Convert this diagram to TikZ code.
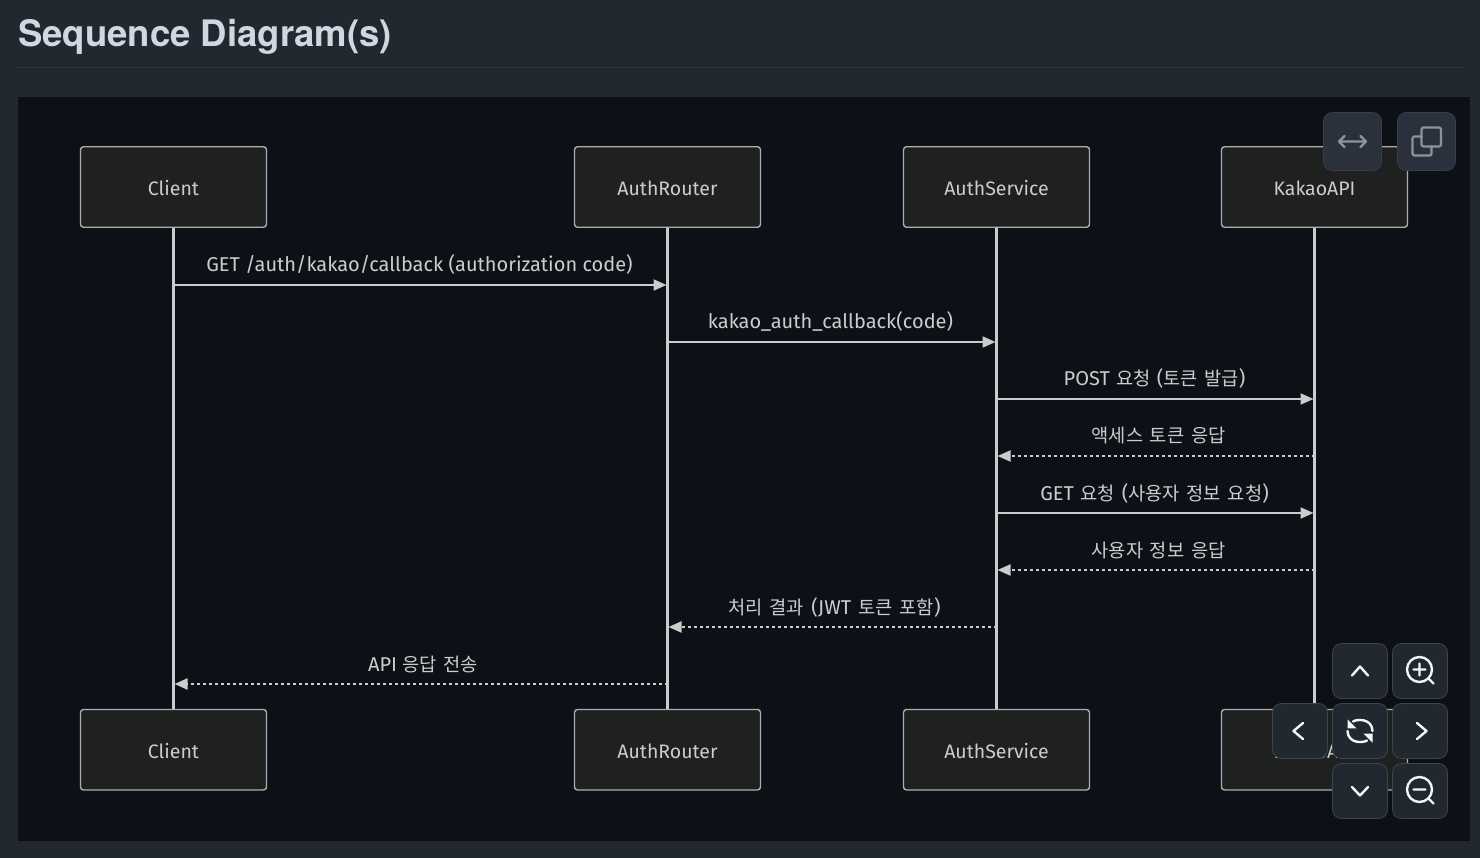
\documentclass[tikz,border=0pt]{standalone}
\usepackage{fontspec}
\setmainfont{Fira Sans}
\newfontfamily\krfont[WordSpace=1.6]{Noto Sans CJK KR}
\newfontfamily\titlefont{TeX Gyre Heros}
\newcommand{\kr}[1]{{\krfont\fontsize{18.7}{22}\selectfont #1}}
\usetikzlibrary{arrows.meta}
\definecolor{pagebg}{HTML}{212830}
\definecolor{panelbg}{HTML}{0D1117}
\definecolor{rulecol}{HTML}{30363D}
\definecolor{titlecol}{HTML}{D1D7E0}
\definecolor{boxfill}{HTML}{1F2020}
\definecolor{linecol}{HTML}{CCCCCC}
\definecolor{btnlight}{HTML}{2A313C}
\definecolor{btnedge}{HTML}{3D444D}
\definecolor{iconmuted}{HTML}{8B949E}
\definecolor{iconbright}{HTML}{F0F6FC}
\tikzset{
  x=1pt,y=-1pt,
  actor/.style={draw=linecol!85!black,fill=boxfill,line width=1.4pt,rounded corners=3pt,
    minimum width=186pt,minimum height=80.5pt,inner sep=0pt,text=linecol,
    text height=17pt,text depth=0pt,
    font=\fontsize{19.5}{24}\selectfont},
  lifeline/.style={draw=linecol,line width=2.2pt},
  solidmsg/.style={draw=linecol,line width=2.1pt,shorten >=1pt,-{Triangle[length=13pt,width=11pt]}},
  dashmsg/.style={draw=linecol,line width=1.9pt,shorten >=1pt,dash pattern=on 3pt off 3pt,
    -{Triangle[length=13pt,width=11pt,sep=0pt]}},
  msglabel/.style={anchor=base,inner sep=0pt,yshift=13.3pt,text=linecol,font=\fontsize{20}{24}\selectfont},
  lowlabel/.style={msglabel,yshift=-0.8pt},
  btntop/.style={draw=btnedge!70!btnlight,fill=btnlight,line width=0.8pt,rounded corners=9pt,
    minimum size=58pt,inner sep=0pt},
  btnnav/.style={draw=btnedge,fill=pagebg,line width=0.8pt,rounded corners=9pt,
    minimum size=55pt,inner sep=0pt},
  iconm/.style={draw=iconmuted,line width=2.2pt,line cap=round,line join=round},
  iconb/.style={draw=iconbright,line width=2.4pt,line cap=round,line join=round},
}
\begin{document}
\begin{tikzpicture}
\useasboundingbox (0,0) rectangle (1480,858);
\fill[pagebg] (0,0) rectangle (1480,858);
\fill[panelbg] (18,97) rectangle (1470,841);
\draw[rulecol,line width=1pt] (18,67.5) -- (1462,67.5);
\node[anchor=base west,inner sep=0pt,text=titlecol,font=\titlefont\bfseries\fontsize{36.5}{40}\selectfont] (title) at (18,47) {Sequence Diagram(s)};

% actors
\node[actor] (ch) at (173.5,187) {Client};
\node[actor] (rh) at (667.5,187) {AuthRouter};
\node[actor] (sh) at (996.5,187) {AuthService};
\node[actor] (kh) at (1314.5,187) {KakaoAPI};
\node[actor] (cf) at (173.5,749.75) {Client};
\node[actor] (rf) at (667.5,749.75) {AuthRouter};
\node[actor] (sf) at (996.5,749.75) {AuthService};
\node[actor] (kf) at (1314.5,749.75) {KakaoAPI};

% lifelines
\draw[lifeline] (ch.south) -- (cf.north);
\draw[lifeline] (rh.south) -- (rf.north);
\draw[lifeline] (sh.south) -- (sf.north);
\draw[lifeline] (kh.south) -- (kf.north);

% messages
\draw[solidmsg] (ch.south |- 0,285) -- node[msglabel,midway,xshift=-1pt] (m1) {GET /auth/kakao/callback (authorization code)} (rh.south |- 0,285);
\draw[solidmsg] (rh.south |- 0,342) -- node[msglabel,midway,xshift=-1.5pt] (m2) {kakao\_auth\_callback(code)} (sh.south |- 0,342);
\draw[solidmsg] (sh.south |- 0,399) -- node[msglabel,midway,xshift=-1pt] (m3) {POST\hspace{1pt} \kr{요청}\hspace{1pt} (\kr{토큰 발급})} (kh.south |- 0,399);
\draw[dashmsg] (kh.south |- 0,456) -- node[msglabel,midway,xshift=3pt] (m4) {\kr{액세스 토큰 응답}} (sh.south |- 0,456);
\draw[solidmsg] (sh.south |- 0,513) -- node[lowlabel,midway,xshift=-1pt] (m5) {GET\hspace{1.5pt} \kr{요청}\hspace{1.5pt} (\kr{사용자 정보 요청})} (kh.south |- 0,513);
\draw[dashmsg] (kh.south |- 0,570) -- node[lowlabel,midway,xshift=3pt] (m6) {\kr{사용자 정보 응답}} (sh.south |- 0,570);
\draw[dashmsg] (sh.south |- 0,627) -- node[lowlabel,midway,xshift=2.5pt] (m7) {\kr{처리 결과}\hspace{2pt} (JWT\hspace{2pt} \kr{토큰 포함})} (rh.south |- 0,627);
\draw[dashmsg] (rh.south |- 0,684) -- node[lowlabel,midway,xshift=2.5pt] (m8) {API \kr{응답 전송}} (ch.south |- 0,684);

% top buttons
\node[btntop] (bwide) at (1352.5,141.5) {};
\node[btntop] (bcopy) at (1426.5,141.5) {};
\begin{scope}[shift={(bwide.center)}]
  \draw[iconm] (-13.5,0) -- (13.5,0) (-8,-5.5) -- (-13.5,0) -- (-8,5.5) (8,-5.5) -- (13.5,0) -- (8,5.5);
\end{scope}
\begin{scope}[shift={(bcopy.center)}]
  \draw[iconm,rounded corners=2pt] (-5,-14) rectangle (14.5,5);
  \draw[iconm,rounded corners=2pt] (-5,-5) -- (-14,-5) -- (-14,14) -- (5,14) -- (5,5);
\end{scope}

% navigation buttons
\node[btnnav] (bup) at (1360,671) {};
\node[btnnav] (bin) at (1420,671) {};
\node[btnnav] (bleft) at (1300,731) {};
\node[btnnav] (bre) at (1360,731) {};
\node[btnnav] (bright) at (1420,731) {};
\node[btnnav] (bdown) at (1360,791) {};
\node[btnnav] (bout) at (1420,791) {};
\draw[iconb] ([shift={(-8,4.5)}]bup.center) -- ([shift={(0,-4.5)}]bup.center) -- ([shift={(8,4.5)}]bup.center);
\draw[iconb] ([shift={(-8,-4)}]bdown.center) -- ([shift={(0,4.5)}]bdown.center) -- ([shift={(8,-4)}]bdown.center);
\draw[iconb] ([shift={(3,-8)}]bleft.center) -- ([shift={(-6.5,0)}]bleft.center) -- ([shift={(3,8)}]bleft.center);
\draw[iconb] ([shift={(-3,-8)}]bright.center) -- ([shift={(6.5,0)}]bright.center) -- ([shift={(-3,8)}]bright.center);
\begin{scope}[shift={(bin.center)}]
  \draw[iconb] (-0.5,-1.5) circle[radius=12.5pt];
  \draw[iconb] (8.5,7.5) -- (13.5,12.5) (-6.5,-1.5) -- (5.5,-1.5) (-0.5,-7.5) -- (-0.5,4.5);
\end{scope}
\begin{scope}[shift={(bout.center)}]
  \draw[iconb] (-0.5,-1.5) circle[radius=12.5pt];
  \draw[iconb] (8.5,7.5) -- (13.5,12.5) (-6.5,-1.5) -- (5.5,-1.5);
\end{scope}
\begin{scope}[shift={(bre.center)}]
  \draw[iconb] (-7,-9.5) .. controls (-3.5,-12) and (12,-13) .. (12.5,0);
  \draw[iconb] (7,9.5) .. controls (3.5,12) and (-12,13) .. (-12.5,0);
  \fill[iconbright] (-12.5,-11.7) -- (-12.5,-2.7) -- (-3.5,-2.7) -- cycle;
  \fill[iconbright] (12.5,11.7) -- (12.5,2.7) -- (3.5,2.7) -- cycle;
\end{scope}
\end{tikzpicture}
\end{document}
